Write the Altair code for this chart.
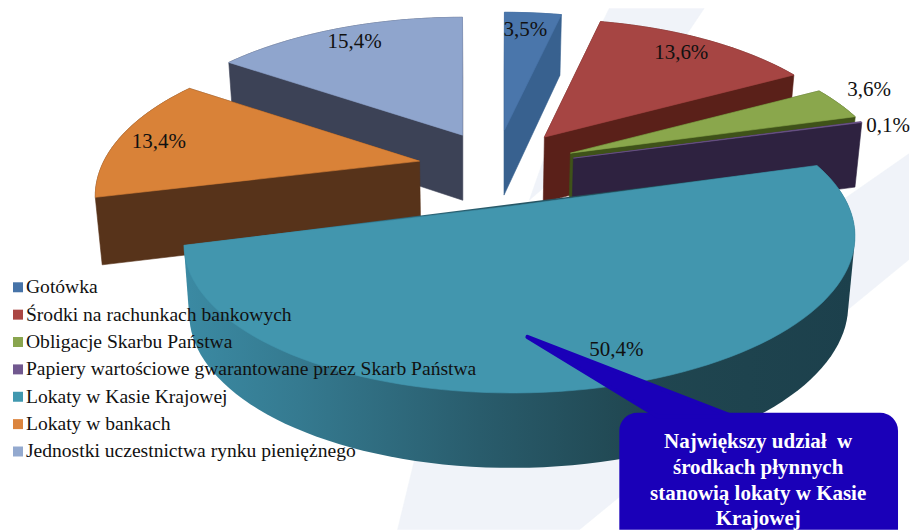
import math
import altair as alt
import pandas as pd

# --- data ---
CATEGORIES = ["Gotówka", "Środki na rachunkach bankowych", "Obligacje Skarbu Państwa",
              "Papiery wartościowe gwarantowane przez Skarb Państwa", "Lokaty w Kasie Krajowej",
              "Lokaty w bankach", "Jednostki uczestnictwa rynku pieniężnego"]
SHARES = [3.5, 13.6, 3.6, 0.1, 50.4, 13.4, 15.4]
SHARE_LABELS = ["3,5%", "13,6%", "3,6%", "0,1%", "50,4%", "13,4%", "15,4%"]
CALLOUT_LINES = ["Największy udział \u00a0w", "środkach płynnych", "stanowią lokaty w Kasie", "Krajowej"]

# --- styling / pie geometry ---
LEGEND_COLORS = ["#4673a8", "#aa4643", "#89a54e", "#71588f", "#4198af", "#db843d", "#93a9cf"]
TOP_COLORS = ["#4a76ab", "#a64543", "#8aa74c", "#71588f", "#4296ae", "#d98238", "#8fa5cd"]
WALL_COLORS = ["#38618f", "#5a2019", "#3f5219", "#2e2240", "#2f6a7d", "#57331a", "#3c4256"]
APEX_X = [505, 545, 571, 574, 520, 420, 463]
APEX_Y = [130, 137, 153, 158, 205, 161, 135]
RADIUS_X = [320, 315, 314, 317, 327, 316, 321]
RADIUS_Y = 145
PERSPECTIVE = 0.229
SHEAR = [0, 0, 0, 0, -4.1, 0, 0]
LABEL_X = [526, 682, 870, 889, 617, 159, 355]
LABEL_Y = [30, 53, 90, 126, 350, 142, 42]
PAINT_ORDER = [6, 0, 1, 2, 3, 5, 4]
PAPER = "#f0f3f9"
CALLOUT = "#1a00b8"

XS = alt.Scale(domain=[8, 910], nice=False, zero=False)
YS = alt.Scale(domain=[530, 8], nice=False, zero=False)
X = alt.X("x:Q", scale=XS, axis=None)
Y = alt.Y("y:Q", scale=YS, axis=None)


def polygon(points, fill, stroke=None, width=0.6):
    df = pd.DataFrame({"x": [p[0] for p in points], "y": [p[1] for p in points],
                       "i": list(range(len(points)))})
    return alt.Chart(df).mark_line(
        filled=True, interpolate="linear-closed", fill=fill,
        stroke=stroke if stroke else (fill if isinstance(fill, str) else "#2a5a6a"),
        strokeWidth=width, strokeJoin="round", clip=True,
    ).encode(x=X, y=Y, order=alt.Order("i:Q"))


def top_face(k, start, end):
    pts = [(APEX_X[k], APEX_Y[k])]
    n = max(2, int((end - start) / 2) + 1)
    for j in range(n + 1):
        t = math.radians(start + (end - start) * j / n)
        u, v = math.sin(t), math.cos(t)
        d = 1 + PERSPECTIVE * v
        pts.append((APEX_X[k] + RADIUS_X[k] * u / d,
                    APEX_Y[k] - RADIUS_Y * v / d + SHEAR[k] * u))
    return pts


def lower(p):
    return (p[0] + 0.018 * (480 - p[0]), p[1] + 65 + 0.038 * (p[1] - 130))


def hull(points):
    pts = sorted(set(points))
    def cross(o, a, b):
        return (a[0] - o[0]) * (b[1] - o[1]) - (a[1] - o[1]) * (b[0] - o[0])
    lo, up = [], []
    for p in pts:
        while len(lo) >= 2 and cross(lo[-2], lo[-1], p) <= 0:
            lo.pop()
        lo.append(p)
    for p in reversed(pts):
        while len(up) >= 2 and cross(up[-2], up[-1], p) <= 0:
            up.pop()
        up.append(p)
    return lo[:-1] + up[:-1]


bounds = [0.0]
for s in SHARES:
    bounds.append(bounds[-1] + s * 3.6 * 100 / sum(SHARES))

TEAL_WALL = alt.Gradient(
    gradient="linear", x1=0, x2=1, y1=0, y2=0,
    stops=[alt.GradientStop(offset=0.0, color="#3b8aa3"),
           alt.GradientStop(offset=0.17, color="#357a90"),
           alt.GradientStop(offset=0.44, color="#295c6c"),
           alt.GradientStop(offset=0.68, color="#204650"),
           alt.GradientStop(offset=1.0, color="#1c404c")])

layers = [
    polygon([(610, 8), (705, 8), (640, 105), (530, 200), (565, 100)], PAPER),
    polygon([(918, 148), (700, 300), (415, 460), (398, 530), (580, 530), (918, 253)], PAPER),
]
for k in PAINT_ORDER:
    face = top_face(k, bounds[k], bounds[k + 1])
    wall = hull(face + [lower(p) for p in face])
    layers.append(polygon(wall, TEAL_WALL if k == 4 else WALL_COLORS[k], "#2b5f70" if k == 4 else None, 0 if k == 4 else 0.6))
    layers.append(polygon(face, TOP_COLORS[k]))

# callout
layers.append(alt.Chart(pd.DataFrame({"x": [620], "x2": [899], "y": [413], "y2": [570]})).mark_rect(
    color=CALLOUT, cornerRadius=18, clip=True
).encode(x=X, x2="x2:Q", y=Y, y2="y2:Q"))
layers.append(polygon([(528, 337), (659, 417), (735, 417)], CALLOUT, CALLOUT, 4))

callout_df = pd.DataFrame({"t": CALLOUT_LINES, "x": [759] * 4, "y": [442, 468, 494, 519]})
layers.append(alt.Chart(callout_df).mark_text(
    font="Liberation Serif", fontSize=21, fontWeight="bold", color="white", align="center", baseline="middle"
).encode(x=X, y=Y, text="t:N"))

labels_df = pd.DataFrame({"t": SHARE_LABELS, "x": LABEL_X, "y": LABEL_Y})
layers.append(alt.Chart(labels_df).mark_text(
    font="Liberation Serif", fontSize=21, color="#111111", align="center", baseline="middle"
).encode(x=X, y=Y, text="t:N"))

legend_df = pd.DataFrame({"t": CATEGORIES, "c": LEGEND_COLORS,
                          "x": [18] * 7, "tx": [26] * 7,
                          "y": [287.3 + 27.4 * i for i in range(7)]})
layers.append(alt.Chart(legend_df).mark_square(size=100, opacity=1, filled=True).encode(
    x=X, y=Y, color=alt.Color("c:N", scale=None, legend=None)))
layers.append(alt.Chart(legend_df).mark_text(
    font="Liberation Serif", fontSize=19.6, color="#111111", align="left", baseline="middle"
).encode(x=alt.X("tx:Q", scale=XS, axis=None), y=Y, text="t:N"))

chart = alt.layer(*layers).properties(
    width=902, height=522, padding=0, background="white"
).configure_view(stroke=None)

chart.save("out.html", embed_options={"renderer": "svg", "actions": False})
